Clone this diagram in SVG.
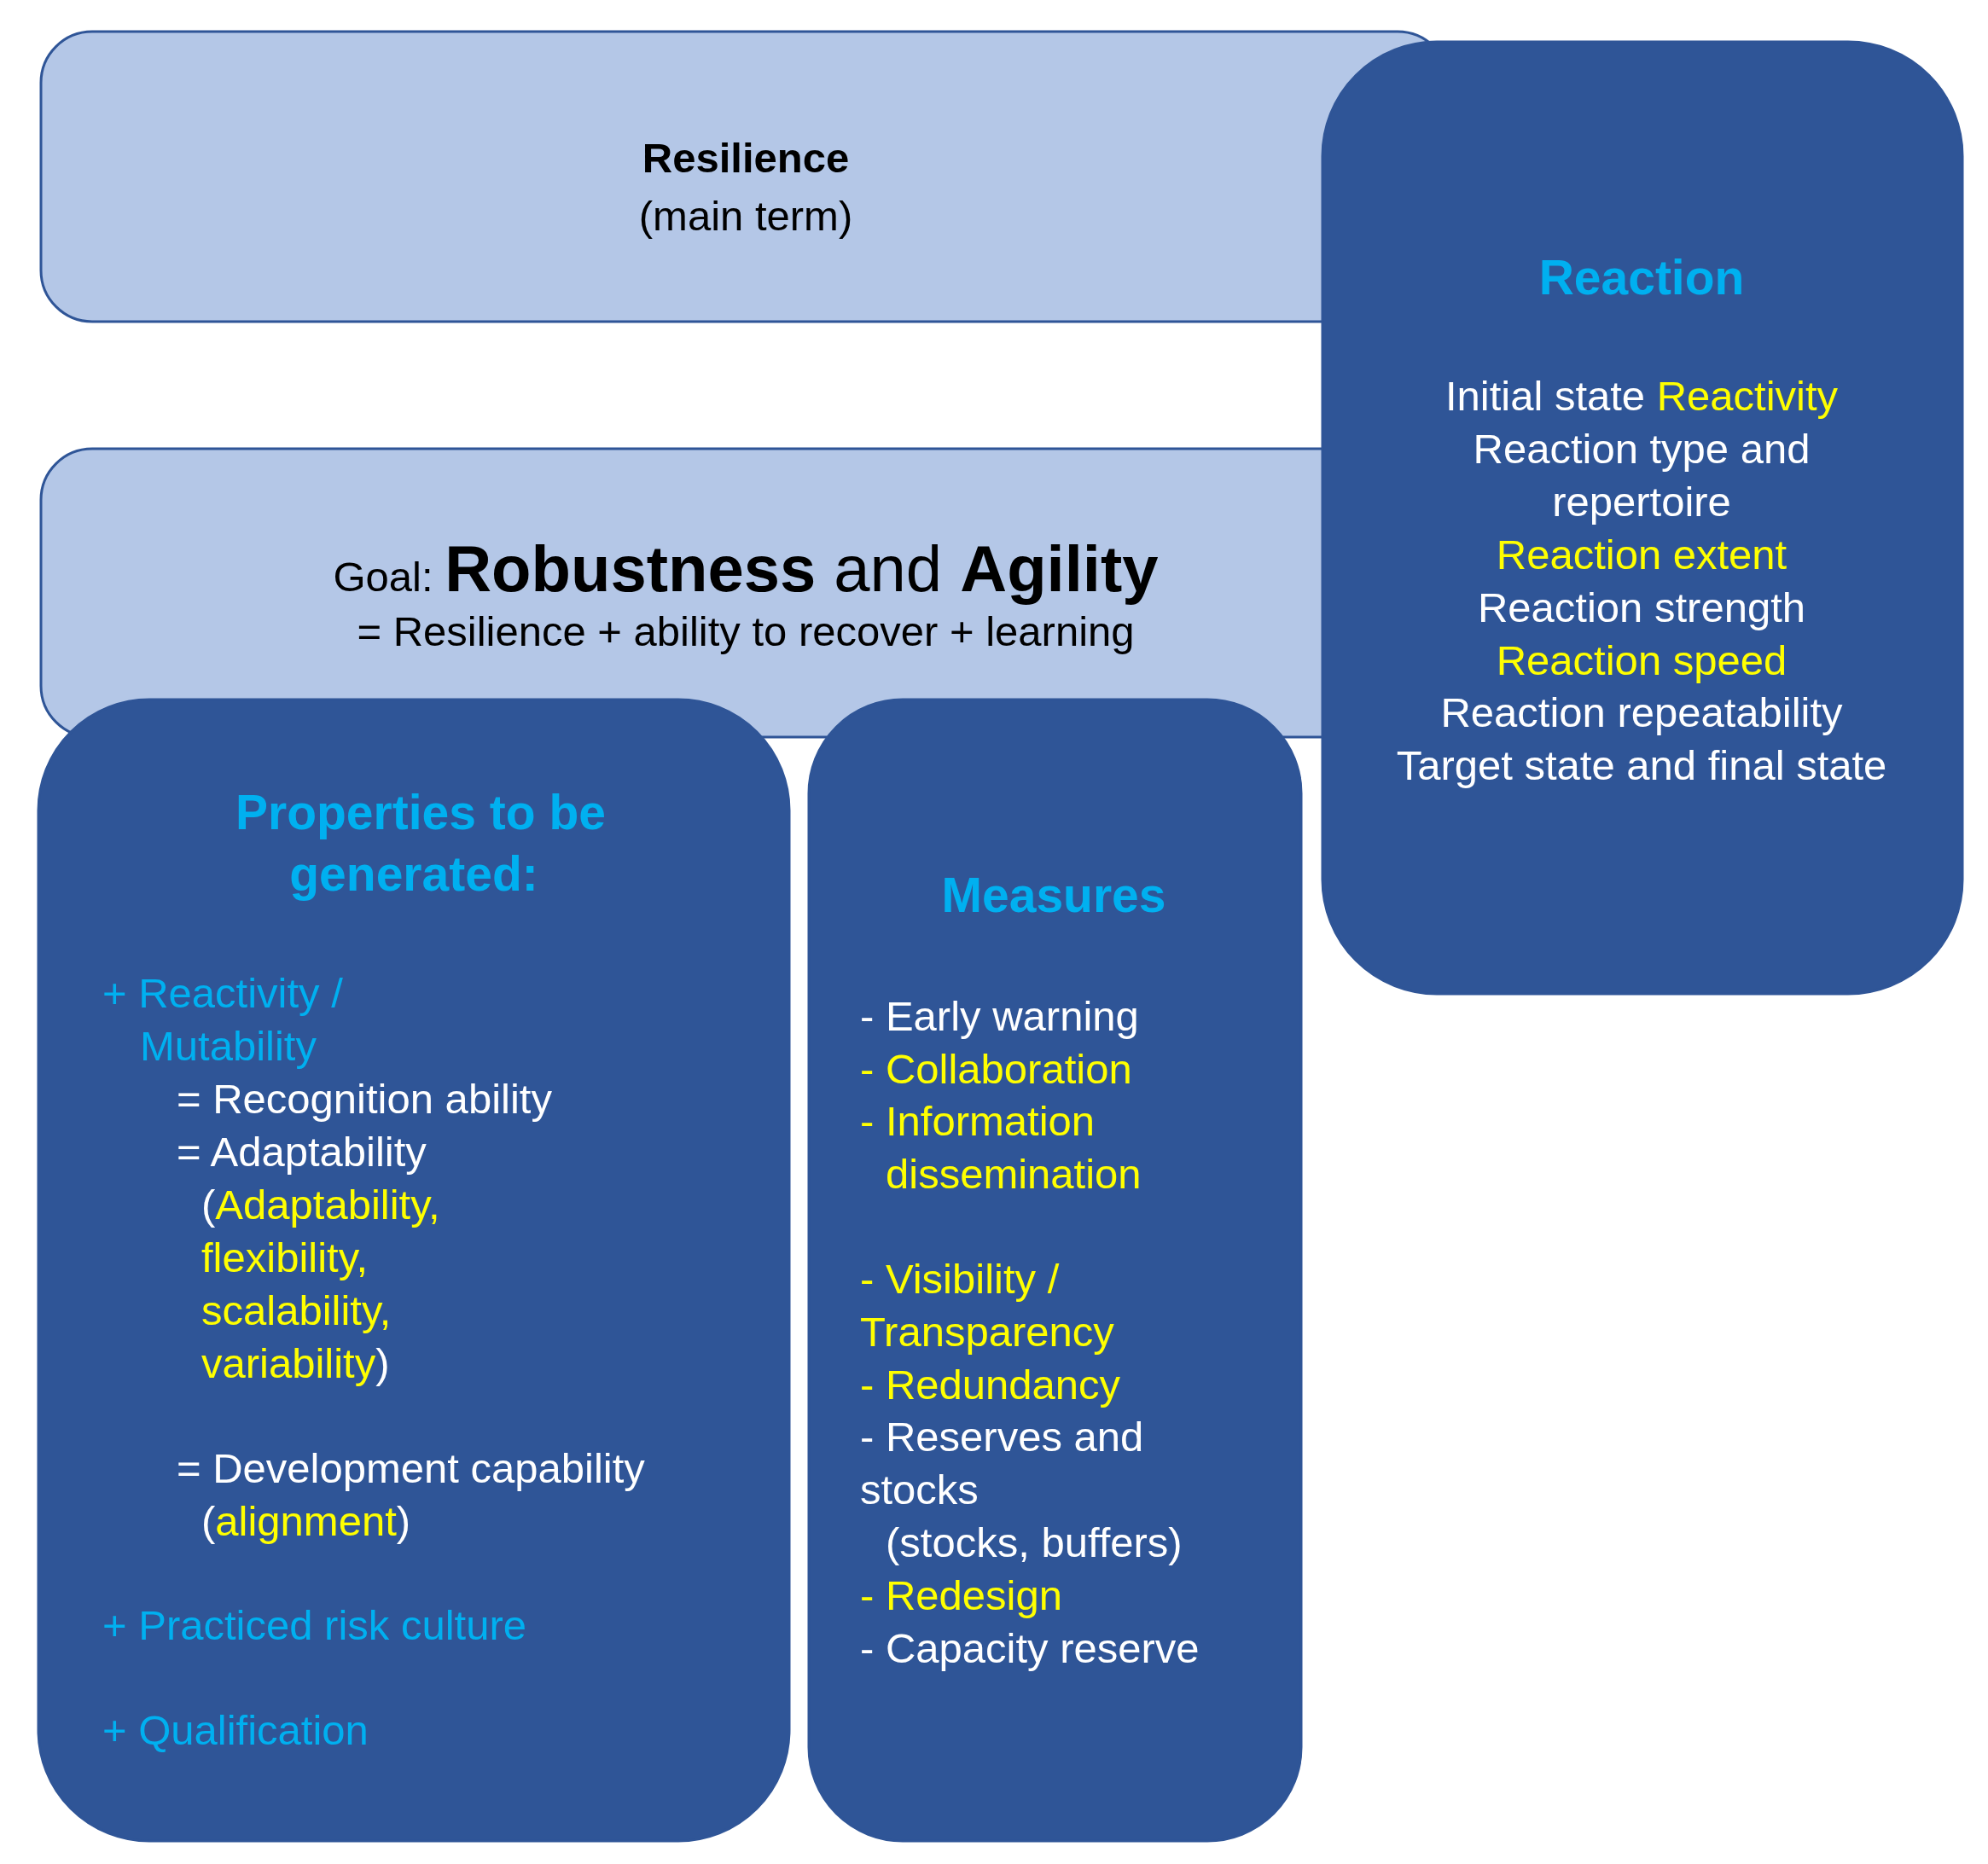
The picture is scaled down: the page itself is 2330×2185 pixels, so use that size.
<svg xmlns="http://www.w3.org/2000/svg" width="2330" height="2185" viewBox="0 0 2330 2185">
<style>
.light{fill:#B4C7E7;stroke:#2F5597;stroke-width:3}
.dark{fill:#2F5597;stroke:#2F5597;stroke-width:3}
text{font-family:"Liberation Sans",Arial,sans-serif;font-size:49px;fill:#fff}
.k{fill:#000}
.t{fill:#00B0F0;font-weight:bold;font-size:57px}
.y{fill:#FFFF00}
.c{fill:#00B0F0}
.m{text-anchor:middle}
</style>
<rect width="2330" height="2185" fill="#fff"/>
<g id="resilience">
<rect class="light" x="48" y="37" width="1650" height="340" rx="60"/>
<text class="k m" x="874" y="202" font-weight="bold" font-size="72">Resilience</text>
<text class="k m" x="874" y="270">(main term)</text>
</g>
<g id="goal">
<rect class="light" x="48" y="526" width="1580" height="338" rx="60"/>
<text class="k m" x="874" y="693"><tspan>Goal: </tspan><tspan font-weight="bold" font-size="76">Robustness</tspan><tspan font-size="76"> and </tspan><tspan font-weight="bold" font-size="76">Agility</tspan></text>
<text class="k m" x="874" y="757">= Resilience + ability to recover + learning</text>
</g>
<g id="reaction">
<rect class="dark" x="1550" y="49" width="750" height="1116" rx="134"/>
<text class="t m" x="1924" y="345">Reaction</text>
<text class="m" x="1924" y="481">Initial state <tspan class="y">Reactivity</tspan></text>
<text class="m" x="1924" y="543">Reaction type and</text>
<text class="m" x="1924" y="605">repertoire</text>
<text class="m y" x="1924" y="667">Reaction extent</text>
<text class="m" x="1924" y="729">Reaction strength</text>
<text class="m y" x="1924" y="791">Reaction speed</text>
<text class="m" x="1924" y="852">Reaction repeatability</text>
<text class="m" x="1924" y="914">Target state and final state</text>
</g>
<g id="properties">
<rect class="dark" x="45" y="820" width="880" height="1338" rx="130"/>
<text class="t m" x="493" y="972">Properties to be</text>
<text class="t m" x="485" y="1044">generated:</text>
<text class="c" x="120" y="1181">+ Reactivity /</text>
<text class="c" x="164" y="1243">Mutability</text>
<text x="207" y="1305">= Recognition ability</text>
<text x="207" y="1367">= Adaptability</text>
<text x="236" y="1429">(<tspan class="y">Adaptability,</tspan></text>
<text class="y" x="236" y="1491">flexibility,</text>
<text class="y" x="236" y="1553">scalability,</text>
<text x="236" y="1615"><tspan class="y">variability</tspan>)</text>
<text x="207" y="1738">= Development capability</text>
<text x="236" y="1800">(<tspan class="y">alignment</tspan>)</text>
<text class="c" x="120" y="1922">+ Practiced risk culture</text>
<text class="c" x="120" y="2045">+ Qualification</text>
</g>
<g id="measures">
<rect class="dark" x="948" y="820" width="577" height="1338" rx="110"/>
<text class="t m" x="1235" y="1069">Measures</text>
<text x="1008" y="1208">- Early warning</text>
<text class="y" x="1008" y="1270">- Collaboration</text>
<text class="y" x="1008" y="1331">- Information</text>
<text class="y" x="1038" y="1393">dissemination</text>
<text class="y" x="1008" y="1516">- Visibility /</text>
<text class="y" x="1008" y="1578">Transparency</text>
<text class="y" x="1008" y="1640">- Redundancy</text>
<text x="1008" y="1701">- Reserves and</text>
<text x="1008" y="1763">stocks</text>
<text x="1038" y="1825">(stocks, buffers)</text>
<text class="y" x="1008" y="1887">- Redesign</text>
<text x="1008" y="1949">- Capacity reserve</text>
</g>
<g id="connectors"/>
</svg>
